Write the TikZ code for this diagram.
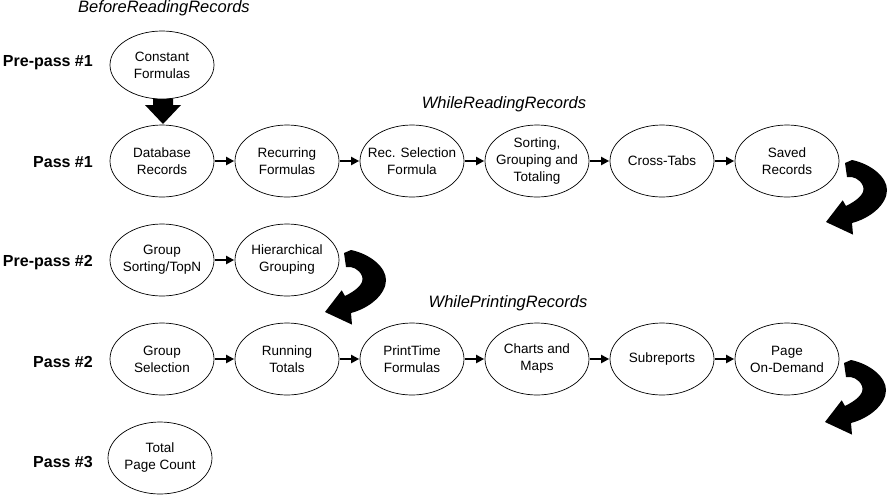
\documentclass[tikz,border=0pt]{standalone}
\usepackage{fontspec}
\setmainfont{Liberation Sans}
\usetikzlibrary{arrows.meta,shapes.geometric}
\tikzset{
  ell/.style={draw=black, line width=0.7pt, fill=white, ellipse, minimum width=104pt, minimum height=72pt, inner sep=0pt},
  etext/.style={align=center, inner sep=0pt, font=\fontsize{13.5}{17}\selectfont},
  passlabel/.style={anchor=east, inner sep=0pt, font=\fontsize{16}{18}\selectfont\bfseries},
  phase/.style={inner sep=0pt, font=\fontsize{16.5}{18}\selectfont\itshape},
  flow/.style={line width=2pt, -{Triangle[length=8pt,width=8pt]}, shorten >=0.5pt, shorten <=0.5pt},
  curvarrow/.pic={
    \fill[black] (0,0) -- (16.7,-21.7) -- (20,-16)
      .. controls (30,-21) and (40,-28) .. (37,-36)
      .. controls (34,-43) and (27,-46) .. (21,-45)
      -- (19,-59) -- (26,-62)
      .. controls (45,-58) and (61,-45) .. (61,-32)
      .. controls (61,-18) and (45,-4) .. (26,1)
      -- (27,12.6) -- cycle;
  }
}
\begin{document}
\begin{tikzpicture}[x=1pt,y=-1pt]
\useasboundingbox (0,0) rectangle (889,496);
\fill[white] (0,0) rectangle (889,496);

% big down arrow
\fill[black] (153,92) -- (173,92) -- (173,105) -- (181,105) -- (163,124) -- (145,105) -- (153,105) -- cycle;

% ellipses
\node[ell] (cf) at (162,65) [minimum height=68pt] {};
\node[ell] (db) at (162,161) {};
\node[ell] (rf) at (287,161) {};
\node[ell] (rs) at (412,161) {};
\node[ell] (sg) at (537,161) {};
\node[ell] (ct) at (662,161) {};
\node[ell] (sr) at (787,161) {};
\node[ell] (gs) at (162,260) {};
\node[ell] (hg) at (287,260) {};
\node[ell] (gsel) at (162,359) {};
\node[ell] (rt) at (287,359) {};
\node[ell] (pt) at (412,359) {};
\node[ell] (cm) at (537,359) {};
\node[ell] (sub) at (662,359) {};
\node[ell] (pod) at (787,359) {};
\node[ell] (tpc) at (160,458) {};

% texts
\node[etext] at (cf) {Constant\\Formulas};
\node[etext] at (db) {Database\\Records};
\node[etext] at (rf) {Recurring\\Formulas};
\node[etext] at (rs) {Rec. Selection\\Formula};
\node[etext] at (sg) {Sorting,\\Grouping and\\Totaling};
\node[etext] at (ct) {Cross-Tabs};
\node[etext] at (sr) {Saved\\Records};
\node[etext] at (gs) {Group\\Sorting/TopN};
\node[etext] at (hg) {Hierarchical\\Grouping};
\node[etext] at (gsel) {Group\\Selection};
\node[etext] at (rt) {Running\\Totals};
\node[etext] at (pt) {PrintTime\\Formulas};
\node[etext] at (cm) {Charts and\\Maps};
\node[etext] at (sub) {Subreports};
\node[etext] at (pod) {Page\\On-Demand};
\node[etext] at (tpc) {Total\\Page Count};

% flow arrows
\draw[flow] (db) -- (rf);
\draw[flow] (rf) -- (rs);
\draw[flow] (rs) -- (sg);
\draw[flow] (sg) -- (ct);
\draw[flow] (ct) -- (sr);
\draw[flow] (gs) -- (hg);
\draw[flow] (gsel) -- (rt);
\draw[flow] (rt) -- (pt);
\draw[flow] (pt) -- (cm);
\draw[flow] (cm) -- (sub);
\draw[flow] (sub) -- (pod);

% curved arrows
\pic at (826,222) {curvarrow};
\pic at (325,312) {curvarrow};
\pic at (825,422) {curvarrow};

% pass labels
\node[passlabel] (l1) at (93,63) {Pre-pass \#1};
\node[passlabel] (l2) at (93,162) {Pass \#1};
\node[passlabel] (l3) at (93,263) {Pre-pass \#2};
\node[passlabel] (l4) at (93,362) {Pass \#2};
\node[passlabel] (l5) at (93,462) {Pass \#3};

% phase titles
\node[phase] (t1) at (164,8) {BeforeReadingRecords};
\node[phase] (t2) at (504,104) {WhileReadingRecords};
\node[phase] (t3) at (508,303) {WhilePrintingRecords};
\end{tikzpicture}
\end{document}
